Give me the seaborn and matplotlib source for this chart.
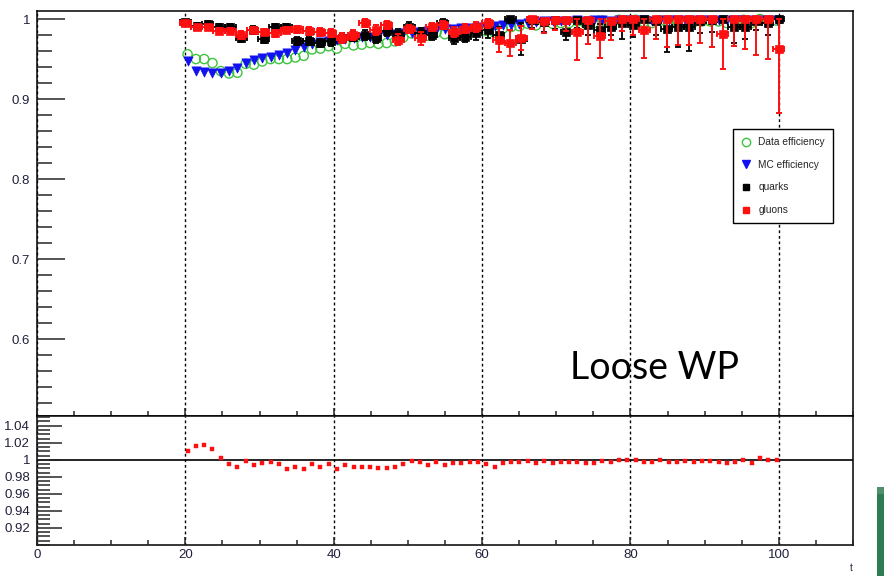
import numpy as np
import matplotlib
matplotlib.use("Agg")
import matplotlib.pyplot as plt
import seaborn as sns
from matplotlib.lines import Line2D
from matplotlib.ticker import MultipleLocator
from matplotlib.patches import Rectangle

# ---------------- data ----------------
eff_x = np.linspace(20.3, 99.7, 72)
data_eff = [0.956, 0.950, 0.950, 0.945, 0.935, 0.932, 0.933, 0.944, 0.943, 0.947,
            0.950, 0.950, 0.950, 0.952, 0.954, 0.962, 0.963, 0.966, 0.963, 0.969,
            0.967, 0.968, 0.970, 0.969, 0.970, 0.972, 0.977, 0.982, 0.981, 0.979,
            0.983, 0.981, 0.984, 0.985, 0.987, 0.988, 0.985, 0.983, 0.988, 0.990,
            0.991, 0.994, 0.992, 0.996, 0.994, 0.995, 0.995, 0.997, 0.994, 0.995,
            0.998, 0.995, 0.999, 0.998, 0.999, 0.996, 0.995, 0.998, 0.996, 0.996,
            0.997, 0.996, 0.997, 0.997, 0.997, 0.995, 0.996, 0.999, 0.995, 1.000,
            0.998, 0.998]
mc_eff = [0.947, 0.935, 0.934, 0.933, 0.933, 0.935, 0.939, 0.945, 0.949, 0.951,
          0.953, 0.955, 0.958, 0.961, 0.965, 0.969, 0.971, 0.973, 0.974, 0.975,
          0.976, 0.977, 0.978, 0.979, 0.980, 0.981, 0.982, 0.983, 0.984, 0.985,
          0.986, 0.987, 0.988, 0.989, 0.989, 0.990, 0.990, 0.991, 0.992, 0.993,
          0.994, 0.995, 0.996, 0.997, 0.998, 0.998, 0.998, 0.999, 0.998, 0.999,
          0.999, 0.998, 0.999, 0.999, 0.999, 0.999, 0.998, 0.999, 0.999, 0.999,
          0.999, 0.999, 0.999, 0.999, 0.999, 0.999, 0.999, 0.999, 0.999, 0.999,
          0.999, 0.999]
ratio = [1.010, 1.016, 1.017, 1.013, 1.002, 0.995, 0.992, 0.999, 0.994, 0.996,
         0.997, 0.995, 0.989, 0.991, 0.989, 0.995, 0.992, 0.995, 0.989, 0.994,
         0.991, 0.991, 0.992, 0.990, 0.990, 0.991, 0.995, 0.999, 0.997, 0.994,
         0.997, 0.994, 0.996, 0.996, 0.998, 0.998, 0.995, 0.992, 0.996, 0.997,
         0.997, 0.999, 0.996, 0.999, 0.996, 0.997, 0.997, 0.998, 0.996, 0.996,
         0.9988, 0.9969, 0.9996, 0.9992, 0.9996, 0.9969, 0.9973, 0.9992, 0.9969, 0.9973,
         0.9984, 0.9969, 0.9984, 0.9984, 0.9976, 0.9961, 0.9973, 1.000, 0.9961, 1.0016,
         0.9992, 0.9992]

qg_x = np.linspace(20, 100, 54)
quarks = [0.996, 0.991, 0.994, 0.990, 0.990, 0.976, 0.986, 0.975, 0.990, 0.990,
          0.972, 0.973, 0.970, 0.972, 0.976, 0.978, 0.980, 0.976, 0.985, 0.981,
          0.990, 0.982, 0.980, 0.995, 0.976, 0.978, 0.982, 0.986, 0.980, 1.000,
          0.975, 0.999, 0.996, 0.999, 0.984, 0.999, 0.992, 0.986, 0.990, 0.995,
          0.993, 1.000, 0.998, 0.987, 0.990, 0.990, 0.998, 0.999, 1.000, 0.990,
          0.990, 0.998, 0.995, 1.000]
quarks_err = [0.003, 0.004, 0.004, 0.004, 0.004, 0.005, 0.005, 0.005, 0.004, 0.004,
              0.005, 0.005, 0.005, 0.006, 0.006, 0.006, 0.006, 0.006, 0.006, 0.007,
              0.006, 0.007, 0.006, 0.005, 0.007, 0.007, 0.008, 0.010, 0.010, 0.004,
              0.020, 0.010, 0.012, 0.012, 0.010, 0.010, 0.012, 0.008, 0.010, 0.020,
              0.015, 0.015, 0.018, 0.028, 0.025, 0.030, 0.015, 0.015, 0.020, 0.020,
              0.015, 0.012, 0.015, 0.005]
gluons = [0.995, 0.990, 0.990, 0.985, 0.985, 0.980, 0.986, 0.984, 0.982, 0.986,
          0.987, 0.985, 0.984, 0.982, 0.976, 0.980, 0.995, 0.986, 0.9925, 0.974,
          0.988, 0.976, 0.990, 0.9925, 0.984, 0.988, 0.990, 0.995, 0.974, 0.970,
          0.976, 1.000, 0.997, 0.999, 0.999, 0.984, 0.999, 0.979, 0.997, 1.000,
          1.000, 0.986, 1.000, 1.000, 1.000, 1.000, 1.000, 1.000, 0.981, 1.000,
          1.000, 1.000, 1.000, 0.963]
gluons_err = [0.003, 0.003, 0.003, 0.004, 0.004, 0.005, 0.004, 0.004, 0.004, 0.004,
              0.004, 0.005, 0.005, 0.005, 0.006, 0.006, 0.005, 0.006, 0.005, 0.007,
              0.005, 0.008, 0.005, 0.005, 0.006, 0.006, 0.006, 0.006, 0.015, 0.016,
              0.015, 0.012, 0.015, 0.013, 0.014, 0.035, 0.030, 0.028, 0.023, 0.015,
              0.020, 0.035, 0.025, 0.035, 0.033, 0.033, 0.030, 0.035, 0.043, 0.034,
              0.037, 0.045, 0.050, 0.080]

legend_labels = ["Data efficiency", "MC efficiency", "quarks", "gluons"]
top_yticks = [0.6, 0.7, 0.8, 0.9, 1.0]
top_ylabels = ["0.6", "0.7", "0.8", "0.9", "1"]
ratio_yticks = [0.92, 0.94, 0.96, 0.98, 1.00, 1.02, 1.04]
ratio_ylabels = ["0.92", "0.94", "0.96", "0.98", "1", "1.02", "1.04"]
x_ticks = [0, 20, 40, 60, 80, 100]
x_labels = ["0", "20", "40", "60", "80", "100"]
overlay_text = "Loose WP"

# ---------------- style ----------------
sns.set_style("white")
plt.rcParams["font.family"] = ["Liberation Sans", "DejaVu Sans"]

W, H = 884, 576
fig = plt.figure(figsize=(W / 100, H / 100), dpi=100)
left, right = 37 / W, 853 / W
ax = fig.add_axes([left, 1 - 415.5 / H, right - left, (415.5 - 11) / H])
ax2 = fig.add_axes([left, 1 - 545 / H, right - left, (545 - 415.5) / H])

green = "#3ec43e"
blue = "#1010f0"
red = "#ff1010"

for a in (ax, ax2):
    a.set_xlim(0, 110)
    for s in a.spines.values():
        s.set_color("black")
        s.set_linewidth(1.1)
    a.set_xticks(x_ticks)
    a.xaxis.set_minor_locator(MultipleLocator(5))
    a.xaxis.grid(True, which="major", color="black", linestyle=(0, (2, 2)), linewidth=1.0)
    a.yaxis.grid(False)
    a.set_axisbelow(False)

# top panel
ax.set_ylim(0.505, 1.01)
ax.set_yticks(top_yticks)
ax.set_yticklabels(top_ylabels)
ax.yaxis.set_minor_locator(MultipleLocator(0.02))
ax.tick_params(axis="y", which="major", direction="in", length=20, width=1.1,
               left=True, right=False, labelsize=9.5, pad=5, labelcolor="#20203a")
ax.tick_params(axis="y", which="minor", direction="in", length=11, width=1.1,
               left=True, right=False)
ax.tick_params(axis="x", which="major", direction="in", length=6, width=1.1,
               bottom=True, top=False, labelbottom=False)
ax.tick_params(axis="x", which="minor", direction="in", length=3.5, width=1.1,
               bottom=True, top=False)

sns.scatterplot(x=eff_x, y=data_eff, ax=ax, marker="o", s=44, color=green,
                facecolors="none", edgecolor=green, linewidth=1.0, zorder=3)
sns.scatterplot(x=eff_x, y=mc_eff, ax=ax, marker="v", s=44, color=blue,
                edgecolor=blue, linewidth=0.5, zorder=4)

q = np.array(quarks); qe = np.array(quarks_err)
ax.errorbar(qg_x, q, yerr=[qe, np.minimum(qe, 1.0 - q)], xerr=0.75, fmt="none",
            ecolor="black", elinewidth=1.3, capsize=2.5, capthick=1.3, zorder=5)
sns.scatterplot(x=qg_x, y=quarks, ax=ax, marker="s", s=32, color="black",
                edgecolor="black", linewidth=0.5, zorder=6)

g = np.array(gluons); ge = np.array(gluons_err)
ax.errorbar(qg_x, g, yerr=[ge, np.minimum(ge, 1.0 - g)], xerr=0.75, fmt="none",
            ecolor=red, elinewidth=1.4, capsize=2.5, capthick=1.4, zorder=7)
sns.scatterplot(x=qg_x, y=gluons, ax=ax, marker="s", s=34, color=red,
                edgecolor=red, linewidth=0.5, zorder=8)

handles = [
    Line2D([], [], marker="o", ls="none", markersize=6, markerfacecolor="none",
           markeredgecolor=green, markeredgewidth=1.0),
    Line2D([], [], marker="v", ls="none", markersize=6, color=blue),
    Line2D([], [], marker="s", ls="none", markersize=4.5, color="black"),
    Line2D([], [], marker="s", ls="none", markersize=4.5, color=red),
]
leg = fig.legend(handles, legend_labels, loc="upper left",
                 bbox_to_anchor=(733 / W, 1 - 129 / H), fontsize=7.3,
                 frameon=True, fancybox=False, framealpha=1, edgecolor="black",
                 labelspacing=1.25, borderpad=0.8, handlelength=1.0,
                 handletextpad=0.7, borderaxespad=0)
leg.get_frame().set_linewidth(1.0)

fig.text(570 / W, 1 - 379 / H, overlay_text, fontsize=27, family=["Lato", "DejaVu Sans"],
         color="black", ha="left", va="baseline")

# ratio panel
ax2.set_ylim(0.9, 1.052)
ax2.set_yticks(ratio_yticks)
ax2.set_yticklabels(ratio_ylabels)
ax2.yaxis.set_minor_locator(MultipleLocator(0.005))
ax2.set_xticklabels(x_labels)
ax2.tick_params(axis="y", which="major", direction="in", length=18, width=1.1,
                left=True, right=False, labelsize=9.5, pad=5, labelcolor="#20203a")
ax2.tick_params(axis="y", which="minor", direction="in", length=9.5, width=1.1,
                left=True, right=False)
ax2.tick_params(axis="x", which="major", direction="in", length=6, width=1.1,
                bottom=True, top=False, labelsize=9.5, pad=3, labelcolor="#20203a")
ax2.tick_params(axis="x", which="minor", direction="in", length=3.5, width=1.1,
                bottom=True, top=False)
ax2.axhline(1.0, color="black", linewidth=1.2, zorder=2)
sns.scatterplot(x=eff_x, y=ratio, ax=ax2, marker="s", s=12, color=red,
                edgecolor=red, linewidth=0.3, zorder=5)

ax.set_xlabel("")
ax.set_ylabel("")
ax2.set_xlabel("")
ax2.set_ylabel("")

# axis title fragment and slide artefact
fig.text(850 / W, 1 - 571 / H, "t", fontsize=7, color="#20203a", ha="left", va="baseline")
fig.patches.append(Rectangle((877 / W, 0), 7 / W, (576 - 487) / H,
                             transform=fig.transFigure, facecolor="#2e7d52",
                             edgecolor="none"))
fig.patches.append(Rectangle((877 / W, (576 - 494) / H), 7 / W, 7 / H,
                             transform=fig.transFigure, facecolor="#4f8f6a",
                             edgecolor="none"))

fig.savefig("out.png", dpi=100)
